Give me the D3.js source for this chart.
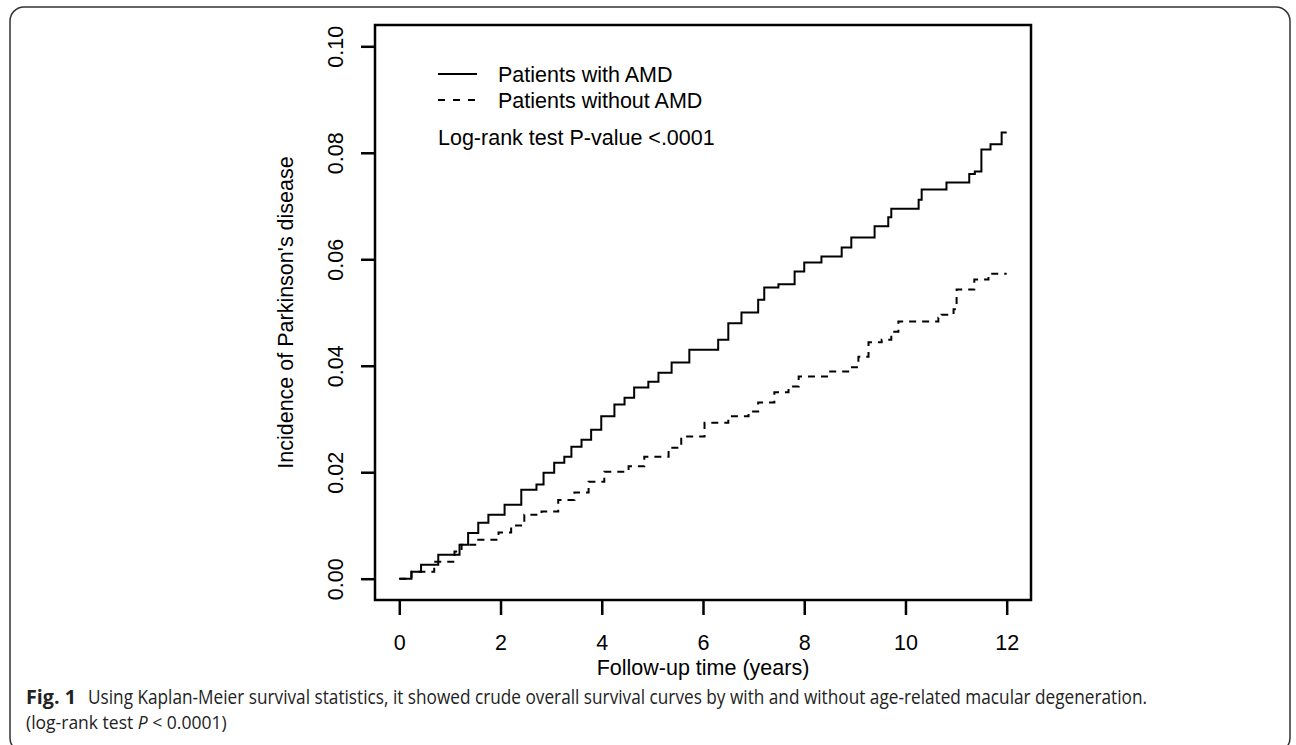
<!DOCTYPE html>
<html>
<head>
<meta charset="utf-8">
<script src="https://cdn.jsdelivr.net/npm/d3@7"></script>
<style>
  html, body { margin: 0; padding: 0; background: #fff; }
  svg { display: block; }
</style>
</head>
<body>
<svg id="chart" width="1296" height="745"></svg>
<script>
// Kaplan-Meier cumulative incidence
const amdTime = [0, 0.24, 0.43, 0.77, 1.19, 1.36, 1.56, 1.76, 2.08, 2.41, 2.71, 2.85, 3.06, 3.26, 3.40, 3.60,
  3.79, 3.99, 4.25, 4.45, 4.64, 4.92, 5.12, 5.38, 5.73, 6.30, 6.50, 6.76, 7.09, 7.21, 7.49, 7.81, 8.0,
  8.34, 8.74, 8.93, 9.39, 9.66, 9.72, 10.26, 10.32, 10.81, 11.26, 11.37, 11.5, 11.68, 11.9, 12];
const amdRisk = [0, .0013, .0026, .0045, .0064, .0086, .0105, .012, .0139, .0167, .0177, .0199, .0218, .0229, .0248, .0261,
  .028, .0305, .0327, .034, .0359, .037, .0387, .0406, .043, .0449, .048, .050, .0524, .0547, .0553, .0577, .0594,
  .0605, .0622, .0641, .0662, .0679, .0695, .0712, .0731, .0744, .076, .0765, .0806, .0816, .0838, .0838];

const noAmdTime = [0, 0.24, 0.69, 1.09, 1.23, 1.56, 1.96, 2.21, 2.47, 2.81, 3.14, 3.46, 3.74, 4.05, 4.53, 4.84,
  5.32, 5.57, 6.03, 6.5, 6.9, 7.09, 7.41, 7.69, 7.89, 8.48, 8.89, 9.07, 9.27, 9.53, 9.72, 9.86, 10.65,
  10.71, 10.95, 11.01, 11.36, 11.64, 12];
const noAmdRisk = [0, .0013, .0032, .0051, .0064, .0073, .0087, .01, .012, .0126, .0148, .0162, .0182, .0201, .0211, .0229,
  .0246, .0267, .0293, .0305, .0314, .0331, .035, .0361, .038, .0389, .0397, .0417, .0444, .0449, .0464, .0483, .049,
  .0496, .0506, .0543, .0562, .0573, .0573];

const xTicks = [0, 2, 4, 6, 8, 10, 12];
const yTicks = [0, 0.02, 0.04, 0.06, 0.08, 0.10];
const legendLabels = ["Patients with AMD", "Patients without AMD"];
const pValueText = "Log-rank test P-value <.0001";

const svg = d3.select("#chart");
const font = "'Liberation Sans', Arial, sans-serif";

// outer figure frame
svg.append("rect")
  .attr("x", 10).attr("y", 7)
  .attr("width", 1280).attr("height", 745)
  .attr("rx", 14)
  .attr("fill", "none")
  .attr("stroke", "#333")
  .attr("stroke-width", 1.5);

// R style axis ranges (4% padding)
const x = d3.scaleLinear().domain([-0.48, 12.48]).range([375, 1031]);
const y = d3.scaleLinear().domain([-0.004, 0.104]).range([600, 25]);

// box
svg.append("rect")
  .attr("x", x(-0.48)).attr("y", y(0.104))
  .attr("width", x(12.48) - x(-0.48))
  .attr("height", y(-0.004) - y(0.104))
  .attr("fill", "none")
  .attr("stroke", "#000")
  .attr("stroke-width", 2.5);

// x axis
const xAxis = svg.append("g")
  .attr("transform", `translate(0,${y(-0.004)})`)
  .call(d3.axisBottom(x).tickValues(xTicks).tickSize(15).tickPadding(20).tickFormat(d3.format("d")));
xAxis.select(".domain").remove();
xAxis.selectAll("line").attr("stroke", "#000").attr("stroke-width", 2.5);
xAxis.selectAll("text").attr("font-family", font).attr("font-size", "21.5px").attr("fill", "#000");

// y axis
const yAxis = svg.append("g")
  .attr("transform", `translate(${x(-0.48)},0)`)
  .call(d3.axisLeft(y).tickValues(yTicks).tickSize(14).tickFormat(d3.format(".2f")));
yAxis.select(".domain").remove();
yAxis.selectAll("line").attr("stroke", "#000").attr("stroke-width", 2.5);
yAxis.selectAll("text")
  .attr("font-family", font).attr("font-size", "21.5px").attr("fill", "#000")
  .attr("x", null).attr("dy", null)
  .attr("text-anchor", "middle")
  .attr("transform", "translate(-32,0) rotate(-90)");

// axis titles
svg.append("text")
  .attr("x", (x(-0.48) + x(12.48)) / 2).attr("y", 675)
  .attr("text-anchor", "middle")
  .attr("font-family", font).attr("font-size", "21.5px")
  .text("Follow-up time (years)");

svg.append("text")
  .attr("transform", `translate(293,${(y(-0.004) + y(0.104)) / 2}) rotate(-90)`)
  .attr("text-anchor", "middle")
  .attr("font-family", font).attr("font-size", "21.5px")
  .text("Incidence of Parkinson's disease");

// curves
const line = d3.line()
  .x(d => x(d[0]))
  .y(d => y(d[1]))
  .curve(d3.curveStepAfter);

svg.append("path")
  .datum(d3.zip(amdTime, amdRisk))
  .attr("d", line)
  .attr("fill", "none")
  .attr("stroke", "#000")
  .attr("stroke-width", 2);

svg.append("path")
  .datum(d3.zip(noAmdTime, noAmdRisk))
  .attr("d", line)
  .attr("fill", "none")
  .attr("stroke", "#000")
  .attr("stroke-width", 2)
  .attr("stroke-dasharray", "7,6");

// legend
const legend = svg.append("g");
legendLabels.forEach((label, i) => {
  const ly = 74 + i * 26;
  legend.append("line")
    .attr("x1", 438).attr("x2", 477)
    .attr("y1", ly).attr("y2", ly)
    .attr("stroke", "#000").attr("stroke-width", 2)
    .attr("stroke-dasharray", i === 0 ? null : "7,8");
  legend.append("text")
    .attr("x", 498).attr("y", ly + 8)
    .attr("font-family", font).attr("font-size", "21.5px")
    .text(label);
});
legend.append("text")
  .attr("x", 438).attr("y", 145)
  .attr("font-family", font).attr("font-size", "21.5px")
  .text(pValueText);

// caption
const capFont = "'Open Sans', 'Noto Sans', sans-serif";
svg.append("text")
  .attr("x", 26).attr("y", 704)
  .attr("font-family", capFont).attr("font-size", "19.5px").attr("font-weight", "bold")
  .attr("fill", "#222")
  .attr("textLength", 50).attr("lengthAdjust", "spacingAndGlyphs")
  .text("Fig. 1");
svg.append("text")
  .attr("x", 88).attr("y", 704)
  .attr("font-family", capFont).attr("font-size", "19.5px")
  .attr("fill", "#222")
  .attr("textLength", 1059).attr("lengthAdjust", "spacingAndGlyphs")
  .text("Using Kaplan-Meier survival statistics, it showed crude overall survival curves by with and without age-related macular degeneration.");
const cap2 = svg.append("text")
  .attr("x", 26).attr("y", 729)
  .attr("font-family", capFont).attr("font-size", "17.5px")
  .attr("fill", "#222");
cap2.append("tspan").text("(log-rank test ");
cap2.append("tspan").attr("font-style", "italic").text("P");
cap2.append("tspan").text(" < 0.0001)");
</script>
</body>
</html>
